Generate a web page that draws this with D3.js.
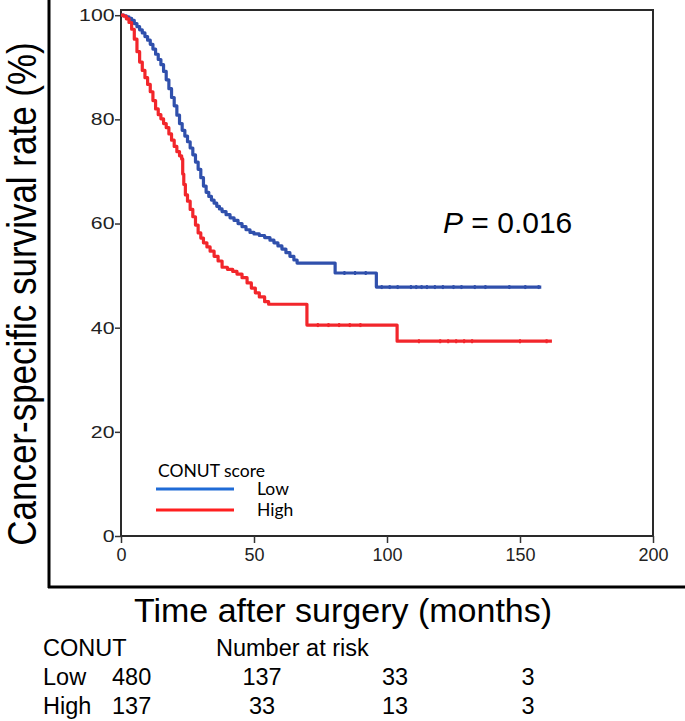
<!DOCTYPE html>
<html>
<head>
<meta charset="utf-8">
<script src="https://cdn.jsdelivr.net/npm/d3@7"></script>
<style>
  body { margin: 0; background: #fff; }
  svg { display: block; }
</style>
</head>
<body>
<svg id="chart" width="685" height="721"></svg>
<script>
// Kaplan-Meier steps: [months, survival %]
let lowSteps = [[0,100],[1,99.9],[2,99.7],[3,99.4],[4,99],[5,98.4],[6,97.8],[7,97.2],[8,96.6],[9,95.9],[10,95.2],[11,94.4],[12,93.5],[13,92.5],[14,91.5],[15,90.5],[16,89.2],[17,87.6],[18,85.9],[19,84.2],[20,82.6],[21,80.8],[22,79.2],[23,77.9],[24,76.8],[25,75.7],[26,74.5],[27,73.2],[28,71.8],[29,70.4],[30,68.8],[31,67.2],[32,66],[33,65.2],[34,64.5],[35,63.9],[36,63.3],[37,62.8],[38,62.3],[39.5,61.7],[41,61.1],[42.5,60.6],[44,60],[45.5,59.4],[47,58.8],[48.5,58.3],[50,58],[52,57.7],[54,57.3],[56,56.8],[57.5,56.3],[59,55.7],[60.5,55.1],[62,54.4],[63.5,53.7],[65,53],[66.2,52.4],[80.5,50.5],[96,47.8]];
let lowEnd = 158;
let lowCensored = [84, 88, 92, 98, 101, 104, 109, 111, 113, 115, 118, 121, 125, 128, 133, 137, 146, 152, 157];

let highSteps = [[0,100],[1,99.8],[2,99.3],[3,98.6],[4,97.3],[5,95.4],[6,93],[7,91],[8,89.4],[9,88],[10,86.7],[11,85.3],[12,83.6],[13,82],[14,80.9],[15,80.1],[16,79.2],[17,78.4],[18,77.2],[19,76],[20,74.8],[21,73.8],[22,73],[22.8,72.4],[23.2,69.5],[23.6,67.5],[24.2,65.5],[25,64.3],[26,62.7],[27,61.3],[28,59.7],[29,58.2],[30,57.2],[31,56.3],[32.3,55.5],[33.5,54.7],[35,53.7],[36.5,52.8],[38,51.6],[40,51.2],[42,50.8],[43.6,50.3],[45.5,49.6],[47.4,48.6],[49,47.6],[50.5,46.7],[52,45.9],[54,45],[55.5,44.5],[69.9,40.5],[103.8,37.4]];
let highEnd = 162;
let highCensored = [74, 78, 82, 86, 90, 112, 120, 123, 126, 129, 132, 150, 160];

let xTicks = [0, 50, 100, 150, 200];
let yTicks = [0, 20, 40, 60, 80, 100];

let groups = ["Low", "High"];
let riskTimes = [0, 50, 100, 150];
let riskLow = [480, 137, 33, 3];
let riskHigh = [137, 33, 13, 3];

let pText = "0.016";

let svg = d3.select("#chart");

let x = d3.scaleLinear().domain([0, 200]).range([121, 653]);
let y = d3.scaleLinear().domain([0, 101]).range([536, 10]);

let blue = "#3050ac";
let red = "#f2262b";

// outer L frame
svg.append("line")
    .attr("x1", 49).attr("x2", 49).attr("y1", 0).attr("y2", 588)
    .attr("stroke", "#000").attr("stroke-width", 3);
svg.append("line")
    .attr("x1", 48).attr("x2", 685).attr("y1", 587).attr("y2", 587)
    .attr("stroke", "#000").attr("stroke-width", 3);

// plot box
svg.append("rect")
    .attr("x", x(0)).attr("y", y(101))
    .attr("width", x(200) - x(0)).attr("height", y(0) - y(101))
    .attr("fill", "none").attr("stroke", "#2a2a2a").attr("stroke-width", 2);

// axes
let xAxis = svg.append("g")
    .attr("transform", `translate(0,${y(0)})`)
    .call(d3.axisBottom(x).tickValues(xTicks).tickSize(7).tickPadding(5));
xAxis.select(".domain").remove();
xAxis.selectAll("line").attr("stroke", "#333").attr("stroke-width", 1.5);
xAxis.selectAll("text")
    .attr("font-family", "Liberation Sans, Arial, sans-serif")
    .attr("font-size", 18).attr("fill", "#222");

let yAxis = svg.append("g")
    .attr("transform", `translate(${x(0)},0)`)
    .call(d3.axisLeft(y).tickValues(yTicks).tickSize(6));
yAxis.select(".domain").remove();
yAxis.selectAll("line").attr("stroke", "#333").attr("stroke-width", 1.5);
yAxis.selectAll("text")
    .attr("x", -5.2)
    .attr("transform", "scale(1.25,1)")
    .attr("font-family", "Liberation Sans, Arial, sans-serif")
    .attr("font-size", 17).attr("fill", "#222");

// curves
let line = d3.line()
    .x(d => x(d[0]))
    .y(d => y(d[1]))
    .curve(d3.curveStepAfter);

function survAt(steps, t) {
    let i = d3.bisector(d => d[0]).right(steps, t) - 1;
    return steps[Math.max(i, 0)][1];
}

function drawCurve(steps, end, censored, color) {
    let pts = steps.concat([[end, steps[steps.length - 1][1]]]);
    svg.append("path")
        .datum(pts)
        .attr("d", line)
        .attr("fill", "none")
        .attr("stroke", color)
        .attr("stroke-width", 3.2)
        .attr("stroke-linejoin", "round");
    svg.append("g").selectAll("line")
        .data(censored)
        .join("line")
        .attr("x1", d => x(d)).attr("x2", d => x(d))
        .attr("y1", d => y(survAt(steps, d)) - 2)
        .attr("y2", d => y(survAt(steps, d)) + 2)
        .attr("stroke", color)
        .attr("stroke-width", 2);
}

drawCurve(lowSteps, lowEnd, lowCensored, blue);
drawCurve(highSteps, highEnd, highCensored, red);

// P value
let pv = svg.append("text")
    .attr("x", 443).attr("y", 233)
    .attr("font-family", "Liberation Sans, Arial, sans-serif")
    .attr("font-size", 30).attr("fill", "#000");
pv.append("tspan").attr("font-style", "italic").text("P");
pv.append("tspan").text(" = " + pText);

// legend
let legend = svg.append("g").attr("font-family", "Lato, Calibri, sans-serif").attr("font-size", 17.5);
legend.append("text").attr("x", 158).attr("y", 477).text("CONUT score");
let legendColors = ["#1f6bd6", "#ff1f1f"];
groups.forEach((g, i) => {
    legend.append("line")
        .attr("x1", 156).attr("x2", 234)
        .attr("y1", 489 + i * 21).attr("y2", 489 + i * 21)
        .attr("stroke", legendColors[i]).attr("stroke-width", 3);
    legend.append("text")
        .attr("x", 257).attr("y", 495 + i * 21)
        .text(g);
});

// axis titles
svg.append("text")
    .attr("x", 343).attr("y", 622)
    .attr("text-anchor", "middle")
    .attr("font-family", "Liberation Sans, Arial, sans-serif")
    .attr("font-size", 34)
    .text("Time after surgery (months)");

svg.append("text")
    .attr("transform", "translate(36,294) rotate(-90) scale(1,1.15)")
    .attr("text-anchor", "middle")
    .attr("font-family", "Liberation Sans, Arial, sans-serif")
    .attr("font-size", 35)
    .text("Cancer-specific survival rate (%)");

// number at risk table
let table = svg.append("g")
    .attr("font-family", "Liberation Sans, Arial, sans-serif")
    .attr("font-size", 23.5).attr("fill", "#000");
table.append("text").attr("x", 43).attr("y", 656).text("CONUT");
table.append("text").attr("x", 216).attr("y", 656).text("Number at risk");

[riskLow, riskHigh].forEach((row, r) => {
    let yy = 685 + r * 29;
    table.append("text").attr("x", 43).attr("y", yy).text(groups[r]);
    row.forEach((n, i) => {
        let t = riskTimes[i];
        table.append("text")
            .attr("x", i === 0 ? x(t) - 9 : x(t) + 8)
            .attr("y", yy)
            .attr("text-anchor", i === 0 ? "start" : "middle")
            .text(n);
    });
});
</script>
</body>
</html>
